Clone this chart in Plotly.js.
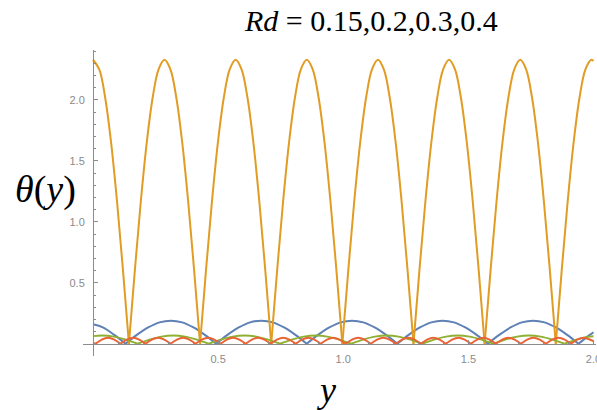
<!DOCTYPE html>
<html>
<head>
<meta charset="utf-8">
<script src="https://cdn.plot.ly/plotly-3.0.1.min.js"></script>
<style>html,body{margin:0;padding:0;background:#fff;}#chart{width:597px;height:410px;}</style>
</head>
<body>
<div id="chart"></div>
<script>
// Rd = 0.15 (blue)
const blueX = [0, 0.0395, 0.0848, 0.13,
  0.1753, 0.2205, 0.2658, 0.311, 0.3563, 0.4015, 0.4468, 0.492,
  0.5373, 0.5825, 0.6278, 0.673, 0.7183, 0.7635, 0.8088, 0.854,
  0.8993, 0.9445, 0.9898, 1.035, 1.0803, 1.1255, 1.1708, 1.216,
  1.2613, 1.3065, 1.3518, 1.397, 1.4423, 1.4875, 1.5328, 1.578,
  1.6233, 1.6685, 1.7138, 1.759, 1.8043, 1.8495, 1.8948, 1.94,
  1.9853, 2.0];
const blueY = [0.160, 0.134, 0.073, 0,
  0.073, 0.134, 0.176, 0.19, 0.176, 0.134, 0.073, 0,
  0.073, 0.134, 0.176, 0.19, 0.176, 0.134, 0.073, 0,
  0.073, 0.134, 0.176, 0.19, 0.176, 0.134, 0.073, 0,
  0.073, 0.134, 0.176, 0.19, 0.176, 0.134, 0.073, 0,
  0.073, 0.134, 0.176, 0.19, 0.176, 0.134, 0.073, 0,
  0.073, 0.095];

// Rd = 0.2 (orange)
const orangeX = [0, 0.025, 0.0487, 0.0724, 0.0961, 0.1198, 0.1435,
  0.1672, 0.1909, 0.2146, 0.2383, 0.262, 0.2857, 0.3093, 0.333, 0.3567, 0.3804, 0.4041, 0.4278,
  0.4515, 0.4752, 0.4989, 0.5226, 0.5463, 0.57, 0.5936, 0.6173, 0.641, 0.6647, 0.6884, 0.7121,
  0.7358, 0.7595, 0.7832, 0.8069, 0.8306, 0.8543, 0.8779, 0.9016, 0.9253, 0.949, 0.9727, 0.9964,
  1.0201, 1.0438, 1.0675, 1.0912, 1.1149, 1.1386, 1.1622, 1.1859, 1.2096, 1.2333, 1.257, 1.2807,
  1.3044, 1.3281, 1.3518, 1.3755, 1.3992, 1.4229, 1.4465, 1.4702, 1.4939, 1.5176, 1.5413, 1.565,
  1.5887, 1.6124, 1.6361, 1.6598, 1.6835, 1.7072, 1.7308, 1.7545, 1.7782, 1.8019, 1.8256, 1.8493,
  1.873, 1.8967, 1.9204, 1.9441, 1.9678, 1.9915, 2.0];
const orangeY = [2.33, 2.251, 2.018, 1.648, 1.165, 0.603, 0,
  0.603, 1.165, 1.648, 2.018, 2.251, 2.33, 2.251, 2.018, 1.648, 1.165, 0.603, 0,
  0.603, 1.165, 1.648, 2.018, 2.251, 2.33, 2.251, 2.018, 1.648, 1.165, 0.603, 0,
  0.603, 1.165, 1.648, 2.018, 2.251, 2.33, 2.251, 2.018, 1.648, 1.165, 0.603, 0,
  0.603, 1.165, 1.648, 2.018, 2.251, 2.33, 2.251, 2.018, 1.648, 1.165, 0.603, 0,
  0.603, 1.165, 1.648, 2.018, 2.251, 2.33, 2.251, 2.018, 1.648, 1.165, 0.603, 0,
  0.603, 1.165, 1.648, 2.018, 2.251, 2.33, 2.251, 2.018, 1.648, 1.165, 0.603, 0,
  0.603, 1.165, 1.648, 2.018, 2.251, 2.33, 2.32];

// Rd = 0.3 (green)
const greenX = [0, 0.036, 0.0834, 0.131, 0.1785,
  0.2259, 0.2733, 0.3207, 0.368, 0.4154, 0.4628,
  0.5102, 0.5576, 0.605, 0.6523, 0.6997, 0.7471,
  0.7945, 0.8419, 0.8893, 0.9366, 0.984, 1.0314,
  1.0788, 1.1262, 1.1736, 1.2209, 1.2683, 1.3157,
  1.3631, 1.4105, 1.4579, 1.5052, 1.5526, 1.6,
  1.6474, 1.6948, 1.7422, 1.7895, 1.8369, 1.8843,
  1.9317, 1.9791, 2.0];
const greenY = [0.063, 0.068, 0.059, 0.034, 0,
  0.034, 0.059, 0.068, 0.059, 0.034, 0,
  0.034, 0.059, 0.068, 0.059, 0.034, 0,
  0.034, 0.059, 0.068, 0.059, 0.034, 0,
  0.034, 0.059, 0.068, 0.059, 0.034, 0,
  0.034, 0.059, 0.068, 0.059, 0.034, 0,
  0.034, 0.059, 0.068, 0.059, 0.034, 0,
  0.034, 0.059, 0.063];

// Rd = 0.4 (red)
const redX = [0, 0.01, 0.035, 0.06, 0.085, 0.11, 0.135, 0.16, 0.185, 0.21, 0.235, 0.26, 0.285, 0.31,
  0.335, 0.36, 0.385, 0.41, 0.435, 0.46, 0.485, 0.51, 0.535, 0.56, 0.585, 0.61, 0.635, 0.66, 0.685, 0.71,
  0.735, 0.76, 0.785, 0.81, 0.835, 0.86, 0.885, 0.91, 0.935, 0.96, 0.985, 1.01, 1.035, 1.06, 1.085, 1.11,
  1.135, 1.16, 1.185, 1.21, 1.235, 1.26, 1.285, 1.31, 1.335, 1.36, 1.385, 1.41, 1.435, 1.46, 1.485, 1.51,
  1.535, 1.56, 1.585, 1.61, 1.635, 1.66, 1.685, 1.71, 1.735, 1.76, 1.785, 1.81, 1.835, 1.86, 1.885, 1.91,
  1.935, 1.96, 1.985, 2.0];
const redY = [0.006, 0, 0.035, 0.05, 0.035, 0, 0.035, 0.05, 0.035, 0, 0.035, 0.05, 0.035, 0,
  0.035, 0.05, 0.035, 0, 0.035, 0.05, 0.035, 0, 0.035, 0.05, 0.035, 0, 0.035, 0.05, 0.035, 0,
  0.035, 0.05, 0.035, 0, 0.035, 0.05, 0.035, 0, 0.035, 0.05, 0.035, 0, 0.035, 0.05, 0.035, 0,
  0.035, 0.05, 0.035, 0, 0.035, 0.05, 0.035, 0, 0.035, 0.05, 0.035, 0, 0.035, 0.05, 0.035, 0,
  0.035, 0.05, 0.035, 0, 0.035, 0.05, 0.035, 0, 0.035, 0.05, 0.035, 0, 0.035, 0.05, 0.035, 0,
  0.035, 0.05, 0.035, 0.022];

const tickVals = [0.5, 1.0, 1.5, 2.0];
const tickText = ['0.5', '1.0', '1.5', '2.0'];
const titleText = '<i>Rd</i> = 0.15,0.2,0.3,0.4';
const yLabel = '<i>θ</i>(<i>y</i>)';
const xLabel = '<i>y</i>';

const colors = ['#5E81B5', '#E19C24', '#8FB032', '#EB6235'];
const series = [[blueX, blueY], [orangeX, orangeY], [greenX, greenY], [redX, redY]];

// split each curve at its zeros so the cusps stay sharp while the arches are smooth
const traces = [];
series.forEach((s, i) => {
  let cx = [], cy = [];
  for (let k = 0; k < s[0].length; k++) {
    cx.push(s[0][k]); cy.push(s[1][k]);
    if (s[1][k] === 0 && cx.length > 1) {
      traces.push({x: cx, y: cy, type: 'scatter', mode: 'lines',
        line: {color: colors[i], width: 2, shape: 'spline', smoothing: 1}, hoverinfo: 'skip'});
      cx = [s[0][k]]; cy = [s[1][k]];
    }
  }
  if (cx.length > 1) {
    traces.push({x: cx, y: cy, type: 'scatter', mode: 'lines',
      line: {color: colors[i], width: 2, shape: 'spline', smoothing: 1}, hoverinfo: 'skip'});
  }
});

const serif = 'Liberation Serif';
const axisCommon = {
  showgrid: false, zeroline: false, showline: true, linecolor: '#8c8c8c', linewidth: 1,
  ticks: 'inside', ticklen: 4, tickcolor: '#8c8c8c', tickwidth: 1,
  tickmode: 'array', tickvals: tickVals, ticktext: tickText,
  tickfont: {family: 'Liberation Sans', size: 11, color: '#8a8a8a'},
  minor: {ticks: 'inside', ticklen: 2, tickcolor: '#8c8c8c', dtick: 0.1, tick0: 0, showgrid: false},
  anchor: 'free', fixedrange: true, ticklabeloverflow: 'allow'
};

const layout = {
  width: 597, height: 410,
  margin: {l: 83, r: 1, t: 50, b: 54},
  paper_bgcolor: '#ffffff', plot_bgcolor: '#ffffff',
  showlegend: false,
  xaxis: Object.assign({}, axisCommon, {range: [-0.04, 2.01], position: 0.0398, ticklabelstandoff: 5}),
  yaxis: Object.assign({}, axisCommon, {range: [-0.1, 2.41], position: 0.0195, ticklabelstandoff: 6}),
  annotations: [
    {text: titleText, xref: 'paper', yref: 'paper', x: 0.5614, y: 1.095, xanchor: 'center', yanchor: 'middle',
     showarrow: false, font: {family: serif, size: 30, color: '#000'}},
    {text: yLabel, xref: 'paper', yref: 'paper', x: -0.074, y: 0.545, xanchor: 'center', yanchor: 'middle',
     showarrow: false, font: {family: serif, size: 38, color: '#000'}},
    {text: xLabel, xref: 'paper', yref: 'paper', x: 0.4756, y: -0.112, xanchor: 'center', yanchor: 'middle',
     showarrow: false, font: {family: serif, size: 36, color: '#000'}}
  ]
};

Plotly.newPlot('chart', traces, layout, {staticPlot: true, displayModeBar: false});
</script>
</body>
</html>
